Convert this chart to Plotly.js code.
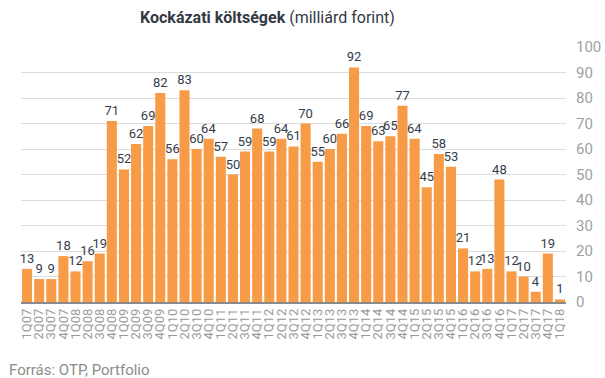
<!DOCTYPE html>
<html>
<head>
<meta charset="utf-8">
<script src="https://cdn.plot.ly/plotly-3.0.1.min.js"></script>
<style>html,body{margin:0;padding:0;background:#fff}#chart{width:605px;height:378px}</style>
</head>
<body>
<div id="chart"></div>
<script>
var quarters = ["1Q07","2Q07","3Q07","4Q07","1Q08","2Q08","3Q08","4Q08","1Q09","2Q09","3Q09","4Q09","1Q10","2Q10","3Q10","4Q10","1Q11","2Q11","3Q11","4Q11","1Q12","2Q12","3Q12","4Q12","1Q13","2Q13","3Q13","4Q13","1Q14","2Q14","3Q14","4Q14","1Q15","2Q15","3Q15","4Q15","1Q16","2Q16","3Q16","4Q16","1Q17","2Q17","3Q17","4Q17","1Q18"];
var costs = [13,9,9,18,12,16,19,71,52,62,69,82,56,83,60,64,57,50,59,68,59,64,61,70,55,60,66,92,69,63,65,77,64,45,58,53,21,12,13,48,12,10,4,19,1];
var yTicks = [0,10,20,30,40,50,60,70,80,90,100];

var trace = {
  type: 'bar',
  x: quarters,
  y: costs,
  text: costs.map(String),
  textposition: 'outside',
  constraintext: 'none',
  cliponaxis: false,
  textfont: {family: 'Roboto, sans-serif', size: 13, color: '#353d4b'},
  marker: {color: '#f79b46'},
  hoverinfo: 'x+y'
};

var layout = {
  width: 605, height: 378,
  margin: {l: 21, r: 39, t: 47, b: 76},
  paper_bgcolor: '#fff', plot_bgcolor: '#fff',
  bargap: 0.17,
  showlegend: false,
  font: {family: 'Roboto, sans-serif'},
  xaxis: {
    type: 'category',
    tickmode: 'array',
    tickvals: quarters,
    ticktext: quarters,
    tickangle: -90,
    tickfont: {size: 13, color: '#9a9a9a'},
    showline: true, linecolor: '#8a8a8a', linewidth: 1.5,
    ticks: '', showgrid: false, zeroline: false
  },
  yaxis: {
    side: 'right',
    range: [0, 100],
    tickvals: yTicks,
    ticktext: yTicks.map(String),
    tickfont: {size: 15, color: '#a0a0a0'},
    ticks: 'outside', ticklen: 6, tickcolor: 'rgba(0,0,0,0)',
    showgrid: true, gridcolor: '#dcdcdc', gridwidth: 1,
    zeroline: false, showline: false
  },
  annotations: [
    {text: '<b>Kockázati költségek</b> (milliárd forint)', xref: 'paper', yref: 'paper',
     x: 0.453, y: 1, yshift: 30, xanchor: 'center', yanchor: 'middle', showarrow: false,
     font: {family: 'Roboto, sans-serif', size: 16, color: '#333a45'}},
    {text: 'Forrás: OTP, Portfolio', xref: 'paper', yref: 'paper', x: 0, xshift: -14,
     y: 0, yshift: -68, xanchor: 'left', yanchor: 'middle', showarrow: false,
     font: {family: 'Roboto, sans-serif', size: 15, color: '#8c8c8c'}}
  ]
};

Plotly.newPlot('chart', [trace], layout, {displayModeBar: false, staticPlot: true});
</script>
</body>
</html>
